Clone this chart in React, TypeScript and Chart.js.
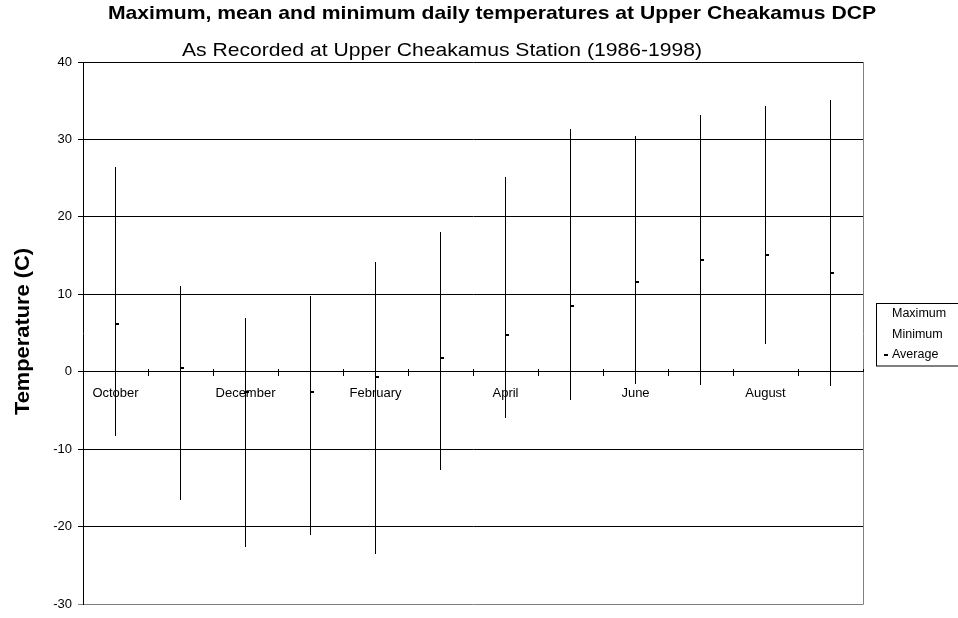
import React, { useEffect, useRef } from "react";
import { Chart, registerables } from "chart.js";

Chart.register(...registerables);

const months = [
  "October", "November", "December", "January", "February", "March",
  "April", "May", "June", "July", "August", "September",
];
const maxTemps = [26.4, 11.1, 7.0, 9.8, 14.2, 18.1, 25.1, 31.4, 30.4, 33.1, 34.3, 35.1];
const minTemps = [-8.3, -16.5, -22.6, -21.1, -23.5, -12.7, -5.9, -3.7, -1.6, -1.7, 3.6, -1.8];
const avgTemps = [6.2, 0.5, -2.6, -2.6, -0.7, 1.8, 4.7, 8.5, 11.6, 14.5, 15.1, 12.8];
const yMin = -30;
const yMax = 40;
const yStep = 10;

const titleText = "Maximum, mean and minimum daily temperatures at Upper Cheakamus DCP";
const subtitleText = "As Recorded at Upper Cheakamus Station (1986-1998)";
const yAxisTitle = "Temperature (C)";
const legendLabels = ["Maximum", "Minimum", "Average"];

const FAMILY = '"Liberation Sans", Arial, Helvetica, sans-serif';

function drawFitted(
  ctx: CanvasRenderingContext2D,
  text: string,
  font: string,
  cx: number,
  baseline: number,
  targetWidth: number,
  rotate = false
) {
  ctx.save();
  ctx.font = font;
  ctx.fillStyle = "#000";
  ctx.textAlign = "center";
  ctx.textBaseline = "alphabetic";
  const w = ctx.measureText(text).width;
  const sx = targetWidth / w;
  ctx.translate(cx, baseline);
  if (rotate) ctx.rotate(-Math.PI / 2);
  ctx.scale(sx, 1);
  ctx.fillText(text, 0, 0);
  ctx.restore();
}

function makeDash(): HTMLCanvasElement {
  const c = document.createElement("canvas");
  c.width = 9;
  c.height = 2;
  const g = c.getContext("2d")!;
  g.fillStyle = "#000";
  g.fillRect(4, 0, 4, 2);
  return c;
}

const rangePlugin = {
  id: "rangePlugin",
  afterDatasetDraw(chart: any, args: any) {
    if (args.index !== 0) return;
    const { ctx } = chart;
    ctx.save();
    ctx.strokeStyle = "#000";
    ctx.lineWidth = 1;
    args.meta.data.forEach((el: any) => {
      const p = el.getProps(["x", "y", "base"], true);
      const x = Math.floor(p.x) + 0.5;
      ctx.beginPath();
      ctx.moveTo(x, Math.round(p.y));
      ctx.lineTo(x, Math.round(p.base));
      ctx.stroke();
    });
    ctx.restore();
  },
};

const textPlugin = {
  id: "textPlugin",
  beforeDraw(chart: any) {
    const { ctx } = chart;
    ctx.save();
    ctx.fillStyle = "#fff";
    ctx.fillRect(0, 0, chart.width, chart.height);
    ctx.restore();
  },
  afterDraw(chart: any) {
    const { ctx, chartArea } = chart;
    const xs = chart.scales.x;
    const ys = chart.scales.y;
    ctx.save();
    ctx.strokeStyle = "#808080";
    ctx.lineWidth = 1;
    ctx.beginPath();
    ctx.moveTo(Math.round(chartArea.right) + 0.5, chartArea.top);
    ctx.lineTo(Math.round(chartArea.right) + 0.5, chartArea.bottom + 0.5);
    ctx.stroke();

    // upper half of the crossing category tick marks
    const axisY = Math.round(ys.getPixelForValue(0));
    const step = xs.getPixelForValue(1) - xs.getPixelForValue(0);
    ctx.strokeStyle = "#000";
    ctx.beginPath();
    for (let i = 0; i <= months.length; i++) {
      const px = Math.round(xs.getPixelForValue(0) - step / 2 + i * step) + 0.5;
      ctx.moveTo(px, axisY - 3);
      ctx.lineTo(px, axisY);
    }
    ctx.stroke();
    ctx.restore();

    drawFitted(ctx, titleText, `bold 19px ${FAMILY}`, 492, 19, 768);
    drawFitted(ctx, subtitleText, `19px ${FAMILY}`, 442, 56, 520);
    drawFitted(ctx, yAxisTitle, `bold 21px ${FAMILY}`, 28.5, 331.5, 167, true);

    // legend
    ctx.save();
    ctx.strokeStyle = "#000";
    ctx.lineWidth = 1;
    ctx.strokeRect(876.5, 303.5, 100, 62.5);
    ctx.fillStyle = "#000";
    ctx.font = `12.5px ${FAMILY}`;
    ctx.textAlign = "left";
    ctx.textBaseline = "middle";
    const ly = [314, 334.5, 355];
    legendLabels.forEach((l, i) => {
      ctx.fillText(l, 892, ly[i]);
    });
    ctx.fillRect(884, 354, 4, 2);
    ctx.restore();
  },
};

export default function App() {
  const ref = useRef<HTMLCanvasElement | null>(null);

  useEffect(() => {
    document.body.style.margin = "0";
    const canvas = ref.current;
    if (!canvas) return;
    const dash = makeDash();
    Chart.defaults.font.family = FAMILY;
    const chart = new Chart(canvas, {
      type: "bar",
      data: {
        labels: months,
        datasets: [
          {
            type: "bar",
            label: "Range",
            data: months.map((_, i) => [minTemps[i], maxTemps[i]]) as any,
            backgroundColor: "rgba(0,0,0,0)",
            borderWidth: 0,
            barThickness: 1,
            order: 2,
          },
          {
            type: "line",
            label: legendLabels[0],
            data: maxTemps,
            showLine: false,
            pointRadius: 0,
            order: 1,
          },
          {
            type: "line",
            label: legendLabels[1],
            data: minTemps,
            showLine: false,
            pointRadius: 0,
            order: 1,
          },
          {
            type: "line",
            label: legendLabels[2],
            data: avgTemps,
            showLine: false,
            pointStyle: dash as any,
            pointRadius: 4,
            order: 0,
          },
        ] as any,
      },
      options: {
        responsive: false,
        animation: false,
        devicePixelRatio: 1,
        events: [],
        layout: { padding: { left: 0, top: 62, right: 95, bottom: 9 } },
        plugins: {
          legend: { display: false },
          title: { display: false },
          tooltip: { enabled: false },
        },
        scales: {
          x: {
            type: "category",
            position: { y: 0 } as any,
            offset: true,
            afterFit: (s: any) => {
              s.height = 0;
            },
            grid: {
              offset: true,
              drawOnChartArea: false,
              drawTicks: true,
              tickLength: 4,
              color: "#000",
            },
            border: { display: true, color: "#000", width: 1 },
            ticks: {
              autoSkip: false,
              maxRotation: 0,
              minRotation: 0,
              padding: 10,
              color: "#000",
              font: { size: 13, family: FAMILY },
              callback: (_v: any, i: number) => (i % 2 === 0 ? months[i] : ""),
            },
          },
          y: {
            type: "linear",
            position: "left",
            min: yMin,
            max: yMax,
            afterFit: (s: any) => {
              s.width = 83;
            },
            grid: {
              color: (c: any) => (c.tick && c.tick.value === yMin ? "#808080" : "#000"),
              tickLength: 5,
              drawTicks: true,
            },
            border: { display: true, color: "#000", width: 1 },
            ticks: {
              stepSize: yStep,
              padding: 6,
              color: "#000",
              font: { size: 13, family: FAMILY },
            },
          },
        },
      },
      plugins: [rangePlugin, textPlugin],
    });
    return () => chart.destroy();
  }, []);

  return (
    <canvas
      ref={ref}
      width={958}
      height={618}
      style={{ position: "fixed", left: 0, top: 0, width: 958, height: 618, display: "block" }}
    />
  );
}
